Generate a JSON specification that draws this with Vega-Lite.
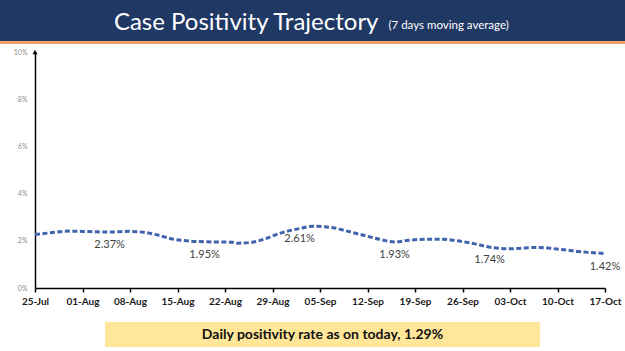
{
  "$schema": "https://vega.github.io/schema/vega-lite/v6.json",
  "padding": 0,
  "background": "white",
  "spacing": 4,
  "config": {"view": {"stroke": null}, "font": "Lato"},
  "datasets": {
    "series": [
      {"date": "2020-07-25", "value": 2.27},
      {"date": "2020-07-27", "value": 2.33},
      {"date": "2020-07-30", "value": 2.41},
      {"date": "2020-08-02", "value": 2.39},
      {"date": "2020-08-05", "value": 2.37},
      {"date": "2020-08-08", "value": 2.40},
      {"date": "2020-08-10", "value": 2.36},
      {"date": "2020-08-12", "value": 2.25},
      {"date": "2020-08-14", "value": 2.09},
      {"date": "2020-08-16", "value": 2.01},
      {"date": "2020-08-19", "value": 1.96},
      {"date": "2020-08-21", "value": 1.95},
      {"date": "2020-08-23", "value": 1.94},
      {"date": "2020-08-24", "value": 1.90},
      {"date": "2020-08-26", "value": 1.94},
      {"date": "2020-08-28", "value": 2.09},
      {"date": "2020-08-30", "value": 2.31},
      {"date": "2020-09-02", "value": 2.52},
      {"date": "2020-09-04", "value": 2.62},
      {"date": "2020-09-07", "value": 2.55},
      {"date": "2020-09-09", "value": 2.41},
      {"date": "2020-09-12", "value": 2.19},
      {"date": "2020-09-14", "value": 2.05},
      {"date": "2020-09-16", "value": 1.95},
      {"date": "2020-09-18", "value": 2.02},
      {"date": "2020-09-21", "value": 2.07},
      {"date": "2020-09-23", "value": 2.07},
      {"date": "2020-09-25", "value": 2.01},
      {"date": "2020-09-28", "value": 1.86},
      {"date": "2020-09-30", "value": 1.73},
      {"date": "2020-10-03", "value": 1.66},
      {"date": "2020-10-05", "value": 1.69},
      {"date": "2020-10-07", "value": 1.72},
      {"date": "2020-10-09", "value": 1.68},
      {"date": "2020-10-11", "value": 1.62},
      {"date": "2020-10-13", "value": 1.55},
      {"date": "2020-10-15", "value": 1.50},
      {"date": "2020-10-17", "value": 1.46}
    ],
    "labels": [
      {"date": "2020-08-05", "value": 2.37, "label": "2.37%"},
      {"date": "2020-08-19", "value": 1.95, "label": "1.95%"},
      {"date": "2020-09-02", "value": 2.61, "label": "2.61%"},
      {"date": "2020-09-16", "value": 1.93, "label": "1.93%"},
      {"date": "2020-09-30", "value": 1.74, "label": "1.74%"},
      {"date": "2020-10-17", "value": 1.42, "label": "1.42%"}
    ],
    "header": [{"title": "Case Positivity Trajectory", "sub": "(7 days moving average)"}],
    "note": [{"text": "Daily positivity rate as on today, 1.29%"}]
  },
  "vconcat": [
    {
      "spacing": 0,
      "vconcat": [
        {
          "width": 625,
          "height": 41,
          "view": {"fill": "#203864", "stroke": null},
          "data": {"name": "header"},
          "layer": [
            {
              "mark": {"type": "text", "align": "right", "baseline": "alphabetic", "dx": 66, "dy": 9, "fontSize": 24, "color": "white", "font": "Lato"},
              "encoding": {"text": {"field": "title"}}
            },
            {
              "mark": {"type": "text", "align": "left", "baseline": "alphabetic", "dx": 76, "dy": 8, "fontSize": 11.5, "color": "white", "font": "Lato"},
              "encoding": {"text": {"field": "sub"}}
            }
          ]
        },
        {
          "width": 625,
          "height": 3,
          "view": {"fill": "#f0a060", "stroke": null},
          "data": {"values": []},
          "mark": "rect",
          "encoding": {}
        }
      ]
    },
    {
      "spacing": 16,
      "vconcat": [
        {
          "spacing": 0,
          "hconcat": [
            {
              "width": 1,
              "height": 236,
              "data": {"values": []},
              "mark": "rect",
              "encoding": {}
            },
            {
              "width": 570,
              "height": 236,
              "layer": [
                {
                  "data": {"name": "series"},
                  "mark": {"type": "line", "interpolate": "monotone", "strokeDash": [5, 2.5], "strokeWidth": 3, "color": "#3f64ad"},
                  "encoding": {
                    "x": {
                      "field": "date", "type": "temporal",
                      "scale": {"type": "utc", "domain": [{"year": 2020, "month": 7, "date": 25, "utc": true}, {"year": 2020, "month": 10, "date": 17, "utc": true}]},
                      "axis": {
                        "title": null, "format": "%d-%b", "grid": false,
                        "values": [
                          {"year": 2020, "month": 7, "date": 25, "utc": true},
                          {"year": 2020, "month": 8, "date": 1, "utc": true},
                          {"year": 2020, "month": 8, "date": 8, "utc": true},
                          {"year": 2020, "month": 8, "date": 15, "utc": true},
                          {"year": 2020, "month": 8, "date": 22, "utc": true},
                          {"year": 2020, "month": 8, "date": 29, "utc": true},
                          {"year": 2020, "month": 9, "date": 5, "utc": true},
                          {"year": 2020, "month": 9, "date": 12, "utc": true},
                          {"year": 2020, "month": 9, "date": 19, "utc": true},
                          {"year": 2020, "month": 9, "date": 26, "utc": true},
                          {"year": 2020, "month": 10, "date": 3, "utc": true},
                          {"year": 2020, "month": 10, "date": 10, "utc": true},
                          {"year": 2020, "month": 10, "date": 17, "utc": true}
                        ],
                        "domainColor": "black", "domainWidth": 1.5,
                        "tickColor": "black", "tickWidth": 1.5, "tickSize": 4,
                        "labelFont": "Lato", "labelFontWeight": "bold", "labelFontSize": 10,
                        "labelColor": "#1a1a1a", "labelPadding": 4,
                        "labelFlush": false, "labelOverlap": false
                      }
                    },
                    "y": {
                      "field": "value", "type": "quantitative",
                      "scale": {"domain": [0, 10], "nice": false},
                      "axis": {
                        "title": null, "values": [0, 2, 4, 6, 8, 10],
                        "labelExpr": "datum.label + '%'",
                        "grid": false, "ticks": false,
                        "domainColor": "black", "domainWidth": 1.5,
                        "labelColor": "#8c8c8c", "labelFontSize": 7, "labelFont": "Lato",
                        "labelPadding": 8, "minExtent": 34, "maxExtent": 34
                      }
                    }
                  }
                },
                {
                  "data": {"name": "labels"},
                  "mark": {"type": "text", "dy": 13, "fontSize": 11, "color": "#404040", "font": "Lato"},
                  "encoding": {
                    "x": {"field": "date", "type": "temporal"},
                    "y": {"field": "value", "type": "quantitative"},
                    "text": {"field": "label"}
                  }
                },
                {
                  "data": {"values": [{}]},
                  "mark": {"type": "point", "shape": "triangle-up", "filled": true, "size": 25, "color": "black", "opacity": 1},
                  "encoding": {
                    "x": {"datum": {"year": 2020, "month": 7, "date": 25, "utc": true}, "type": "temporal"},
                    "y": {"datum": 10, "type": "quantitative"}
                  }
                }
              ]
            }
          ]
        },
        {
          "spacing": 0,
          "hconcat": [
            {
              "width": 105,
              "height": 25,
              "data": {"values": []},
              "mark": "rect",
              "encoding": {}
            },
            {
              "width": 435,
              "height": 25,
              "view": {"fill": "#ffe699", "stroke": null},
              "data": {"name": "note"},
              "mark": {"type": "text", "fontSize": 14, "fontWeight": "bold", "color": "#111111", "font": "Lato"},
              "encoding": {"text": {"field": "text"}}
            }
          ]
        }
      ]
    }
  ]
}
